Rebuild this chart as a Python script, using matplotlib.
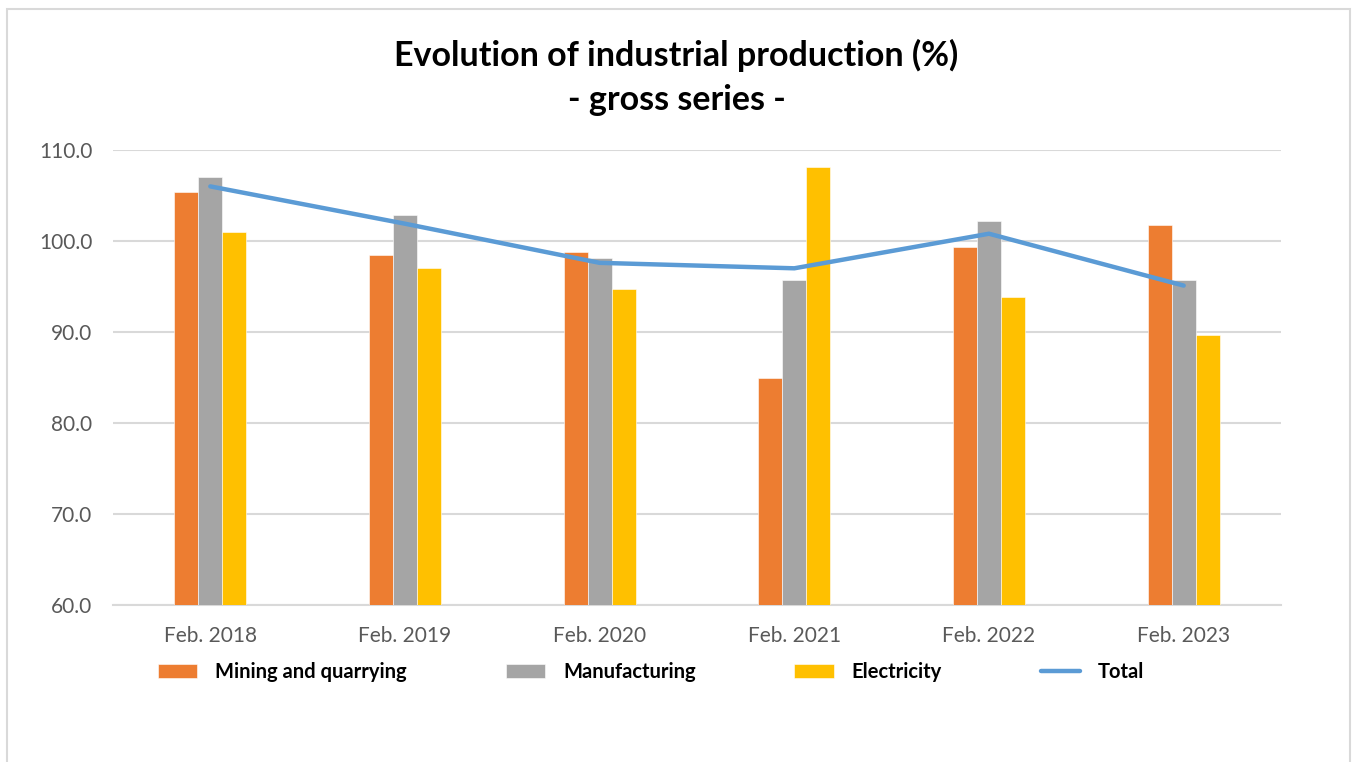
import matplotlib
matplotlib.use("Agg")
import matplotlib.pyplot as plt
import matplotlib.patches as mpatches
import numpy as np

categories = ["Feb. 2018", "Feb. 2019", "Feb. 2020", "Feb. 2021", "Feb. 2022", "Feb. 2023"]
mining = [105.4, 98.5, 98.8, 85.0, 99.3, 101.8]
manufacturing = [107.0, 102.9, 98.1, 95.7, 102.2, 95.7]
electricity = [101.0, 97.0, 94.7, 108.1, 93.8, 89.7]
total = [106.0, 101.9, 97.6, 97.0, 100.8, 95.1]
yticks = [60, 70, 80, 90, 100, 110]

plt.rcParams['font.family'] = ['Lato', 'DejaVu Sans']

W, H = 1353, 762
fig = plt.figure(figsize=(W / 100, H / 100), dpi=100)
fig.patch.set_facecolor("white")

# outer chart border
fig.patches.append(mpatches.Rectangle((7 / W, -0.01), (1350 - 7) / W, 1 - 9 / H + 0.01,
                                      transform=fig.transFigure, fill=False,
                                      edgecolor="#d9d9d9", linewidth=1.5))

ax = fig.add_axes([113 / W, 1 - 605 / H, (1281 - 113) / W, (605 - 150) / H])

x = np.arange(len(categories))
bw = 0.123
b1 = ax.bar(x - bw, mining, bw, color="#ED7D31", edgecolor="white", linewidth=0.4,
            label="Mining and quarrying", zorder=3)
b2 = ax.bar(x, manufacturing, bw, color="#A5A5A5", edgecolor="white", linewidth=0.4,
            label="Manufacturing", zorder=3)
b3 = ax.bar(x + bw, electricity, bw, color="#FFC000", edgecolor="white", linewidth=0.4,
            label="Electricity", zorder=3)
l1, = ax.plot(x, total, color="#5B9BD5", linewidth=3.2, solid_capstyle="round",
              label="Total", zorder=4)

ax.set_ylim(60, 110)
ax.set_xlim(-0.5, len(categories) - 0.5)
ax.set_yticks(yticks)
ax.set_yticklabels([f"{v:.1f}" for v in yticks])
ax.set_xticks(x)
ax.set_xticklabels(categories)
ax.tick_params(axis="both", length=0, labelsize=15, colors="#595959")
ax.tick_params(axis="x", pad=15)
ax.tick_params(axis="y", pad=15)
ax.grid(axis="y", color="#d9d9d9", linewidth=1.5, zorder=0)
ax.set_axisbelow(True)
for s in ["top", "right", "left"]:
    ax.spines[s].set_visible(False)
ax.spines["bottom"].set_color("#d9d9d9")
ax.spines["bottom"].set_linewidth(1.5)

fig.text(0.5, 1 - 55 / H, "Evolution of industrial production (%)", ha="center", va="center",
         fontsize=24.5, fontweight="bold", color="black")
fig.text(0.5, 1 - 100 / H, "- gross series -", ha="center", va="center",
         fontsize=24.5, fontweight="bold", color="black")

leg = fig.legend([b1, b2, b3, l1], ["Mining and quarrying", "Manufacturing", "Electricity", "Total"],
                 loc="center left", bbox_to_anchor=(158 / W, 1 - 672 / H), ncol=4,
                 frameon=False, prop={"weight": "bold", "size": 14.5},
                 handlelength=1.95, handleheight=0.7, handletextpad=0.9,
                 columnspacing=4.9, borderpad=0, borderaxespad=0)

fig.savefig("out.png", dpi=100)
